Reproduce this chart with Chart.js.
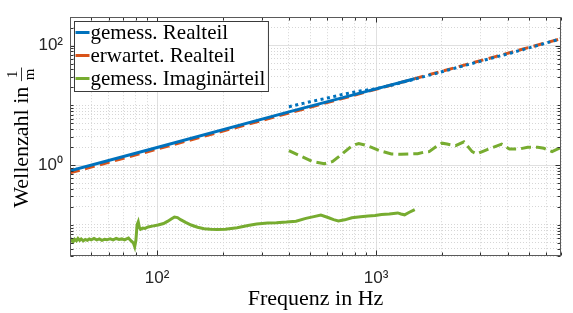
<!DOCTYPE html>
<html>
<head>
<meta charset="utf-8">
<script src="https://cdn.jsdelivr.net/npm/chart.js@4.4.1/dist/chart.umd.min.js"></script>
<style>
  html, body { margin: 0; padding: 0; background: #fff; }
  #wrap { width: 573px; height: 313px; }
</style>
</head>
<body>
<div id="wrap"><canvas id="chart"></canvas></div>
<script>
// frequency in Hz / wave number in 1/m
const realLowF = [40, 100, 400, 1000, 1500];
const realLowK = [0.8, 1.97, 7.8, 18.9, 27.9];

const realHighF = [400, 450, 500, 600, 700, 800, 900, 1000, 1200, 1500, 2000, 3000, 4000, 5000, 6000, 7000];
const realHighK = [9.5, 10.5, 11.5, 13.3, 15.2, 16.8, 18.0, 19.0, 22.2, 27.5, 36.6, 55, 73, 92, 111, 131];

const expectedF = [40, 7000];
const expectedK = [0.74, 131];

const imagLowF = [40, 40.7, 41.4, 42, 42.8, 43.5, 44.3, 45, 46, 47, 48, 49, 50, 51.5, 53, 54.5, 56, 57.5, 59, 61,
  63, 65, 67, 69, 71, 72.5, 74, 75.5, 77, 78, 79, 80, 81, 82, 83, 84, 86, 88, 91, 95, 101, 107, 112, 116, 120, 124,
  128, 135, 143, 153, 164, 175, 188, 205, 232, 260, 285, 320, 351, 390, 431, 478, 520, 560, 608, 640, 673, 720, 776,
  850, 922, 990, 1060, 1150, 1257, 1300, 1351, 1420, 1503];
const imagLowK = [0.051, 0.056, 0.052, 0.057, 0.054, 0.059, 0.055, 0.058, 0.054, 0.057, 0.055, 0.058, 0.056, 0.059,
  0.056, 0.058, 0.055, 0.057, 0.056, 0.058, 0.056, 0.059, 0.057, 0.058, 0.056, 0.058, 0.060, 0.055, 0.052, 0.049,
  0.043, 0.055, 0.100, 0.112, 0.090, 0.084, 0.088, 0.087, 0.092, 0.095, 0.099, 0.105, 0.115, 0.125, 0.135, 0.132,
  0.122, 0.110, 0.099, 0.091, 0.086, 0.084, 0.083, 0.084, 0.089, 0.097, 0.103, 0.107, 0.108, 0.111, 0.115, 0.128,
  0.137, 0.146, 0.131, 0.122, 0.116, 0.121, 0.131, 0.136, 0.140, 0.143, 0.149, 0.152, 0.158, 0.152, 0.147, 0.162,
  0.180];

const imagHighF = [400, 446, 511, 580, 634, 701, 777, 834, 900, 955, 1050, 1176, 1300, 1446, 1550, 1650, 1750, 1870,
  2000, 2110, 2310, 2520, 2750, 2890, 3100, 3330, 3750, 4070, 4500, 4930, 5480, 5850, 6370, 6850, 7000];
const imagHighK = [1.75, 1.45, 1.15, 1.05, 1.15, 1.54, 2.11, 2.30, 2.15, 1.98, 1.72, 1.54, 1.52, 1.54, 1.55, 1.64,
  1.68, 2.0, 2.33, 2.25, 2.11, 2.45, 1.68, 1.54, 1.72, 1.91, 2.24, 1.86, 1.86, 1.98, 1.98, 1.91, 1.68, 1.91, 2.33];

const seriesNames = ['gemess. Realteil', 'erwartet. Realteil', 'gemess. Imaginärteil'];

const xTickValues = [100, 1000];
const xTickText = ['10²', '10³'];
const yTickValues = [1, 100];
const yTickText = ['10⁰', '10²'];

const BLUE = '#0072BD';
const RED = '#D95319';
const GREEN = '#77AC30';
const SERIF = '"Liberation Serif", "Times New Roman", serif';
const SANS = '"Liberation Sans", Arial, sans-serif';

const toPoints = (xs, ys) => xs.map((x, i) => ({ x, y: ys[i] }));
const sameValue = (a, b) => Math.abs(a - b) < 1e-9 * Math.max(a, b);
const labelIndex = (v, values) => values.findIndex((t) => sameValue(v, t));

// every 1..9 x 10^n between min and max, like MATLAB's minor grid
function logTicks(min, max) {
  const ticks = [];
  for (let e = Math.floor(Math.log10(min)); e <= Math.ceil(Math.log10(max)); e++) {
    for (let m = 1; m < 10; m++) {
      const v = Number((m * Math.pow(10, e)).toPrecision(6));
      if (v >= min * 0.999 && v <= max * 1.001) ticks.push({ value: v });
    }
  }
  return ticks;
}

function gridFor(values) {
  return {
    drawTicks: false,
    lineWidth: 1,
    color: (c) => (c.tick && labelIndex(c.tick.value, values) >= 0 ? '#e0e0e0' : '#d6d6d6'),
  };
}

function borderFor(values) {
  return {
    display: false,
    dash: (c) => (c.tick && labelIndex(c.tick.value, values) >= 0 ? [] : [1, 2]),
  };
}

const frameAndTicks = {
  id: 'frameAndTicks',
  afterDatasetsDraw(chart) {
    const { ctx, chartArea: a, scales } = chart;
    const left = Math.round(a.left) + 0.5;
    const right = Math.round(a.right) - 0.5;
    const top = Math.round(a.top) + 0.5;
    const bottom = Math.round(a.bottom) - 0.5;
    ctx.save();
    ctx.strokeStyle = '#303030';
    ctx.lineWidth = 1;
    ctx.beginPath();
    scales.x.ticks.forEach((t) => {
      const px = Math.round(scales.x.getPixelForValue(t.value)) + 0.5;
      const len = labelIndex(t.value, xTickValues) >= 0 ? 5 : 3;
      ctx.moveTo(px, bottom); ctx.lineTo(px, bottom - len);
      ctx.moveTo(px, top); ctx.lineTo(px, top + len);
    });
    scales.y.ticks.forEach((t) => {
      const py = Math.round(scales.y.getPixelForValue(t.value)) + 0.5;
      const len = labelIndex(t.value, yTickValues) >= 0 ? 5 : 3;
      ctx.moveTo(left, py); ctx.lineTo(left + len, py);
      ctx.moveTo(right, py); ctx.lineTo(right - len, py);
    });
    ctx.stroke();
    ctx.strokeStyle = '#5a5a5a';
    ctx.strokeRect(left, top, right - left, bottom - top);

    // legend box in the upper left corner of the axes
    const lx = left + 4;
    const ly = top + 4;
    const rowH = 23;
    const shown = chart.data.datasets.filter((d) => d.inLegend);
    ctx.font = `21px ${SERIF}`;
    const textW = Math.max(...shown.map((d) => ctx.measureText(d.label).width));
    const boxW = 16 + textW + 3;
    const boxH = rowH * shown.length + 1;
    ctx.fillStyle = '#fff';
    ctx.fillRect(lx, ly, boxW, boxH);
    ctx.strokeStyle = '#3a3a3a';
    ctx.strokeRect(lx, ly, boxW, boxH);
    shown.forEach((d, i) => {
      const cy = ly + 11 + i * rowH;
      ctx.beginPath();
      ctx.setLineDash([]);
      ctx.lineWidth = 3;
      ctx.strokeStyle = d.borderColor;
      ctx.moveTo(lx + 1, cy);
      ctx.lineTo(lx + 15, cy);
      ctx.stroke();
      ctx.fillStyle = '#000';
      ctx.textBaseline = 'middle';
      ctx.textAlign = 'left';
      ctx.fillText(d.label, lx + 16, cy + 1);
    });
    ctx.restore();
  },
  afterDraw(chart) {
    // y axis label with a stacked 1/m fraction
    const { ctx, chartArea: a } = chart;
    const main = 'Wellenzahl in ';
    ctx.save();
    ctx.translate(21, (a.top + a.bottom) / 2 + 1);
    ctx.rotate(-Math.PI / 2);
    ctx.fillStyle = '#000';
    ctx.font = `22px ${SERIF}`;
    ctx.textBaseline = 'middle';
    const w1 = ctx.measureText(main).width;
    ctx.font = `15px ${SERIF}`;
    const fw = ctx.measureText('m').width + 2;
    const x0 = -(w1 + fw) / 2;
    ctx.font = `22px ${SERIF}`;
    ctx.textAlign = 'left';
    ctx.fillText(main, x0, 1);
    const fx = x0 + w1 + fw / 2;
    ctx.font = `15px ${SERIF}`;
    ctx.textAlign = 'center';
    ctx.fillText('1', fx, -8);
    ctx.fillText('m', fx, 9);
    ctx.beginPath();
    ctx.lineWidth = 0.8;
    ctx.strokeStyle = '#000';
    ctx.moveTo(fx - fw / 2, 0.5);
    ctx.lineTo(fx + fw / 2, 0.5);
    ctx.stroke();
    ctx.restore();
  },
};

const common = { pointRadius: 0, borderWidth: 3, fill: false, tension: 0, borderCapStyle: 'butt' };

new Chart(document.getElementById('chart'), {
  type: 'line',
  data: {
    datasets: [
      { ...common, label: seriesNames[0], inLegend: true, data: toPoints(realLowF, realLowK), borderColor: BLUE },
      { ...common, label: seriesNames[0], data: toPoints(realHighF, realHighK), borderColor: BLUE, borderDash: [3, 3.5] },
      { ...common, label: seriesNames[1], inLegend: true, data: toPoints(expectedF, expectedK), borderColor: RED, borderDash: [10, 5.5] },
      { ...common, label: seriesNames[2], inLegend: true, data: toPoints(imagLowF, imagLowK), borderColor: GREEN },
      { ...common, label: seriesNames[2], data: toPoints(imagHighF, imagHighK), borderColor: GREEN, borderDash: [10, 5] },
    ],
  },
  options: {
    responsive: true,
    maintainAspectRatio: false,
    animation: false,
    layout: { padding: { left: 0, top: 12, right: 2, bottom: 0 } },
    plugins: {
      legend: { display: false },
      tooltip: { enabled: false },
    },
    scales: {
      x: {
        type: 'logarithmic',
        min: 40,
        max: 7000,
        afterBuildTicks: (s) => { s.ticks = logTicks(40, 7000); },
        afterFit: (s) => { s.height = 57; },
        grid: gridFor(xTickValues),
        border: borderFor(xTickValues),
        ticks: {
          autoSkip: false,
          maxRotation: 0,
          padding: 12,
          color: '#262626',
          font: { family: SANS, size: 17 },
          callback: (v) => {
            const i = labelIndex(v, xTickValues);
            return i >= 0 ? xTickText[i] : '';
          },
        },
        title: {
          display: true,
          text: 'Frequenz in Hz',
          color: '#000',
          font: { family: SERIF, size: 22 },
          padding: { top: 0, bottom: 1 },
        },
      },
      y: {
        type: 'logarithmic',
        min: 0.03,
        max: 300,
        afterBuildTicks: (s) => { s.ticks = logTicks(0.03, 300); },
        afterFit: (s) => { s.width = 70; },
        grid: gridFor(yTickValues),
        border: borderFor(yTickValues),
        ticks: {
          autoSkip: false,
          padding: 7,
          color: '#262626',
          font: { family: SANS, size: 17 },
          callback: (v) => {
            const i = labelIndex(v, yTickValues);
            return i >= 0 ? yTickText[i] : '';
          },
        },
      },
    },
  },
  plugins: [frameAndTicks],
});
</script>
</body>
</html>
